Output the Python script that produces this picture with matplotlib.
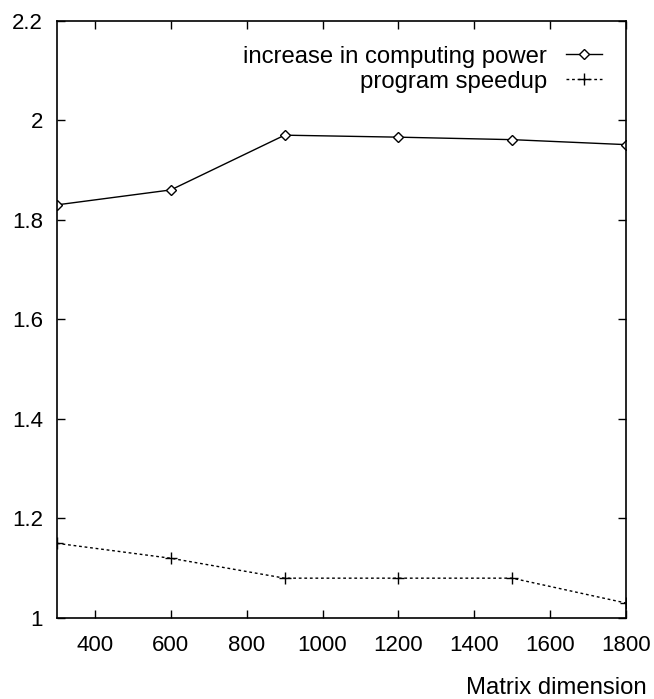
import numpy as np
import matplotlib
matplotlib.use("Agg")
import matplotlib.pyplot as plt
from matplotlib.ticker import FormatStrFormatter

plt.rcParams['font.family'] = ['Liberation Sans', 'DejaVu Sans']

# values
matrix_dim = [300, 600, 900, 1200, 1500, 1800]
computing_power = [1.83, 1.86, 1.97, 1.966, 1.961, 1.951]
speedup = [1.15, 1.12, 1.08, 1.08, 1.08, 1.03]
xticks = [400, 600, 800, 1000, 1200, 1400, 1600, 1800]
yticks = [1.0, 1.2, 1.4, 1.6, 1.8, 2.0, 2.2]

fs = 16
fs_text = 17.2

fig = plt.figure(figsize=(6.54, 6.99), dpi=100)
ax = fig.add_axes([0.0872, 0.1159, 0.870, 0.8545])

ax.plot(matrix_dim, computing_power, color='black', lw=1.0,
        marker='D', markersize=5, markerfacecolor='white', markeredgewidth=1.0,
        label='increase in computing power')
ax.plot(matrix_dim, speedup, color='black', lw=1.0, linestyle=(0, (2, 2)),
        marker='+', markersize=8, markeredgewidth=1.0,
        label='program speedup')

ax.set_xlim(300, 1800)
ax.set_ylim(1.0, 2.2)
ax.set_xticks(xticks)
ax.set_yticks(yticks)
ax.yaxis.set_major_formatter(FormatStrFormatter('%g'))

ax.tick_params(direction='in', length=5.5, width=1.0, top=True, right=True,
               labelsize=fs)
ax.tick_params(axis='y', pad=10)
ax.tick_params(axis='x', pad=12)
for s in ax.spines.values():
    s.set_linewidth(1.2)

ax.set_xlabel('Matrix dimension', fontsize=fs_text, ha='right', va='center')
ax.xaxis.set_label_coords(1.037, -0.117)

ax.legend(loc='upper right', bbox_to_anchor=(0.958, 0.958), frameon=False,
          markerfirst=False, alignment='right', fontsize=fs_text,
          handlelength=1.5, handletextpad=0.8, labelspacing=0.12,
          borderpad=0, borderaxespad=0, numpoints=1)

fig.savefig('out.png', dpi=100)
